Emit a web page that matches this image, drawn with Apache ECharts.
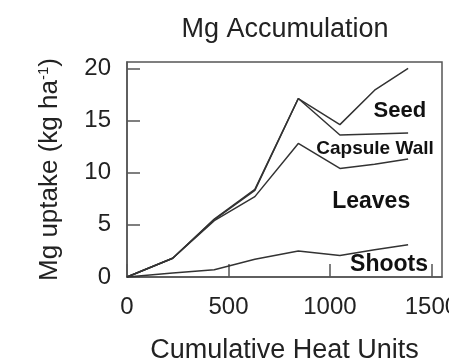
<!DOCTYPE html>
<html>
<head>
<meta charset="utf-8">
<script src="https://cdn.jsdelivr.net/npm/echarts@6/dist/echarts.min.js"></script>
<style>
  html, body { margin: 0; padding: 0; background: #fff; }
  #chart { width: 449px; height: 361px; }
</style>
</head>
<body>
<div id="chart"></div>
<script>
// cumulative heat units at each sampling
const heatUnits = [0, 225, 430, 630, 844, 1049, 1220, 1385]
// stacked Mg uptake (kg/ha)
const seed = [0, 1.8, 5.55, 8.4, 17.1, 14.6, 17.9, 20.0]
const capsuleWall = [0, 1.8, 5.5, 8.3, 17.1, 13.6, 13.7, 13.8]
const leaves = [0, 1.8, 5.4, 7.7, 12.8, 10.4, 10.8, 11.3]
const shoots = [0, 0.38, 0.7, 1.7, 2.5, 2.05, 2.6, 3.1]

const font = 'Liberation Sans, Arial, sans-serif'
const lineColor = '#333'

function pairs (ys) {
  return heatUnits.map((x, i) => [x, ys[i]])
}

function tag (text, x, y, size) {
  return {
    symbol: 'circle',
    symbolSize: 1,
    itemStyle: { color: 'rgba(0,0,0,0)' },
    silent: true,
    data: [{
      coord: [x, y],
      label: {
        show: true,
        position: 'inside',
        formatter: text,
        color: '#111',
        fontFamily: font,
        fontWeight: 'bold',
        fontSize: size
      }
    }]
  }
}

function line (name, ys, mark) {
  return {
    name: name,
    type: 'line',
    data: pairs(ys),
    showSymbol: false,
    lineStyle: { color: lineColor, width: 1.5 },
    markPoint: mark,
    silent: true,
    animation: false
  }
}

const chart = echarts.init(document.getElementById('chart'))
chart.setOption({
  animation: false,
  title: {
    text: 'Mg Accumulation',
    left: 280,
    top: 11,
    textAlign: 'center',
    textStyle: { fontFamily: font, fontWeight: 'normal', fontSize: 27, color: '#222' }
  },
  grid: {
    left: 127,
    right: 7,
    top: 62,
    bottom: 84,
    outerBoundsMode: 'none',
    containLabel: false,
    show: true,
    borderColor: '#555',
    borderWidth: 1.5
  },
  xAxis: {
    type: 'value',
    min: 0,
    max: 1552,
    interval: 500,
    name: 'Cumulative Heat Units',
    nameLocation: 'middle',
    nameGap: 60,
    nameTextStyle: { fontFamily: font, fontSize: 27, color: '#222' },
    axisLine: { lineStyle: { color: '#555', width: 1.5 } },
    axisTick: { inside: true, length: 13, lineStyle: { color: '#555', width: 1.5 } },
    axisLabel: { showMaxLabel: false, margin: 18, fontFamily: font, fontSize: 24, color: '#222', formatter: v => String(v) },
    splitLine: { show: false }
  },
  yAxis: {
    type: 'value',
    min: 0,
    max: 20.6,
    interval: 5,
    name: 'Mg uptake (kg ha{sup|-1})',
    nameLocation: 'middle',
    nameGap: 64,
    nameTextStyle: {
      fontFamily: font,
      fontSize: 26,
      color: '#222',
      rich: {
        sup: { fontFamily: font, fontSize: 15, color: '#222', verticalAlign: 'top', padding: [0, 0, 12, 0] }
      }
    },
    axisLine: { lineStyle: { color: '#555', width: 1.5 } },
    axisTick: { inside: true, length: 13, lineStyle: { color: '#555', width: 1.5 } },
    axisLabel: { showMaxLabel: false, margin: 16, fontFamily: font, fontSize: 24, color: '#222' },
    splitLine: { show: false }
  },
  series: [
    line('Seed', seed, tag('Seed', 1344, 15.9, 22)),
    line('Capsule Wall', capsuleWall, tag('Capsule Wall', 1222, 12.3, 19)),
    line('Leaves', leaves, tag('Leaves', 1203, 7.2, 23)),
    line('Shoots', shoots, tag('Shoots', 1291, 1.15, 23))
  ]
})
</script>
</body>
</html>
